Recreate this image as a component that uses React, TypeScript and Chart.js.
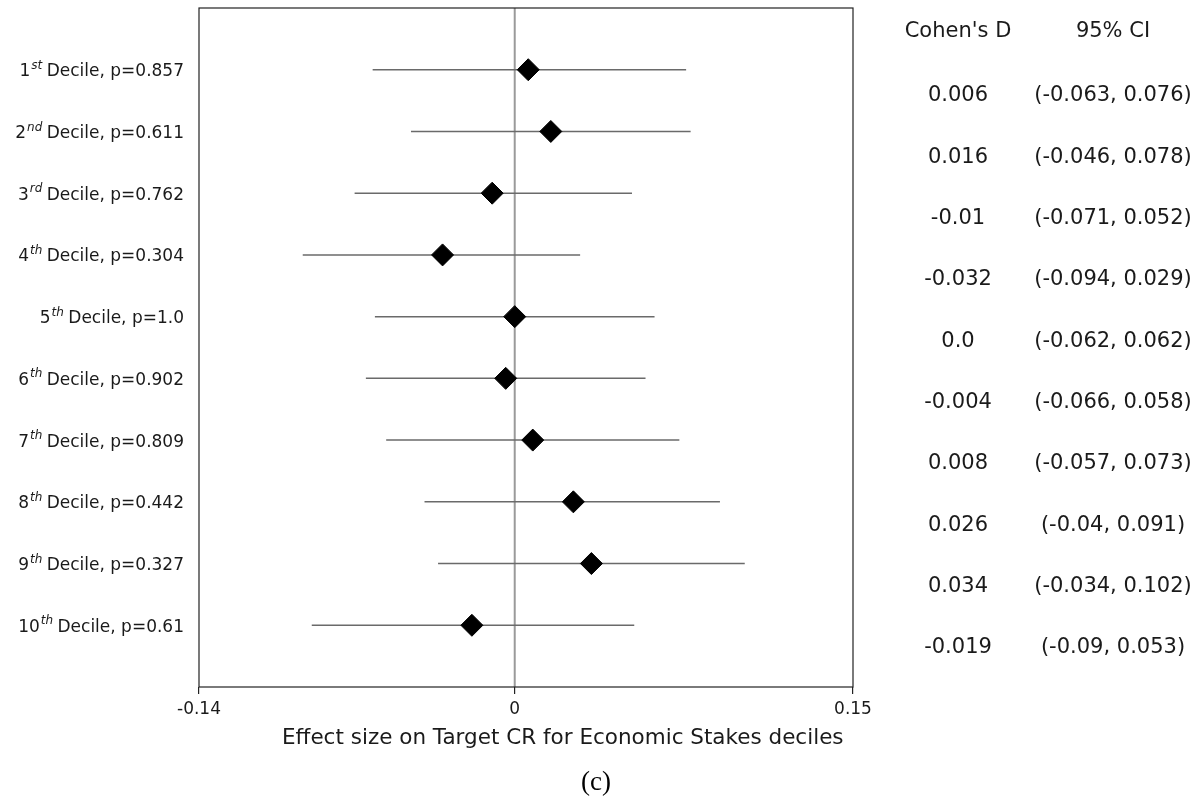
import React, { useEffect, useRef } from "react";
import { Chart, registerables } from "chart.js";

Chart.register(...registerables);

const ordinalNums = ["1", "2", "3", "4", "5", "6", "7", "8", "9", "10"];
const ordinalSup = ["st", "nd", "rd", "th", "th", "th", "th", "th", "th", "th"];
const pValues = ["0.857", "0.611", "0.762", "0.304", "1.0", "0.902", "0.809", "0.442", "0.327", "0.61"];
const cohensD = [0.006, 0.016, -0.01, -0.032, 0.0, -0.004, 0.008, 0.026, 0.034, -0.019];
const ciLow = [-0.063, -0.046, -0.071, -0.094, -0.062, -0.066, -0.057, -0.04, -0.034, -0.09];
const ciHigh = [0.076, 0.078, 0.052, 0.029, 0.062, 0.058, 0.073, 0.091, 0.102, 0.053];
const dLabels = ["0.006", "0.016", "-0.01", "-0.032", "0.0", "-0.004", "0.008", "0.026", "0.034", "-0.019"];
const ciLabels = [
  "(-0.063, 0.076)",
  "(-0.046, 0.078)",
  "(-0.071, 0.052)",
  "(-0.094, 0.029)",
  "(-0.062, 0.062)",
  "(-0.066, 0.058)",
  "(-0.057, 0.073)",
  "(-0.04, 0.091)",
  "(-0.034, 0.102)",
  "(-0.09, 0.053)",
];
const xTicks = [-0.14, 0, 0.15];
const xTickLabels = ["-0.14", "0", "0.15"];
const xTitle = "Effect size on Target CR for Economic Stakes deciles";
const tableHeaders = ["Cohen's D", "95% CI"];
const caption = "(c)";

const SANS = "'DejaVu Sans', sans-serif";
const TEXT = "#1a1a1a";

const overlay = {
  id: "overlay",
  beforeDatasetsDraw(chart: any) {
    const { ctx, chartArea: a, scales } = chart;
    const x = scales.x;
    const y = scales.y;
    ctx.save();
    const x0 = x.getPixelForValue(0);
    ctx.strokeStyle = "#9a9a9a";
    ctx.lineWidth = 2;
    ctx.beginPath();
    ctx.moveTo(x0, a.top);
    ctx.lineTo(x0, a.bottom);
    ctx.stroke();
    ctx.strokeStyle = "#6a6a6a";
    ctx.lineWidth = 1.5;
    ciLow.forEach((lo, i) => {
      const py = y.getPixelForValue(i);
      ctx.beginPath();
      ctx.moveTo(x.getPixelForValue(lo), py);
      ctx.lineTo(x.getPixelForValue(ciHigh[i]), py);
      ctx.stroke();
    });
    ctx.restore();
  },
  afterDraw(chart: any) {
    const { ctx, chartArea: a, scales } = chart;
    const y = scales.y;
    ctx.save();
    // frame
    ctx.strokeStyle = "#222";
    ctx.lineWidth = 1.2;
    ctx.strokeRect(a.left, a.top, a.right - a.left, a.bottom - a.top);

    // y labels with superscripts
    ctx.fillStyle = TEXT;
    ctx.textBaseline = "middle";
    const rightX = a.left - 15;
    ordinalNums.forEach((num, i) => {
      const py = y.getPixelForValue(i) + 2;
      const rest = ` Decile, p=${pValues[i]}`;
      ctx.font = `17px ${SANS}`;
      ctx.textAlign = "right";
      ctx.fillText(rest, rightX, py);
      const wRest = ctx.measureText(rest).width;
      ctx.font = `italic 12px ${SANS}`;
      const sup = ordinalSup[i];
      const wSup = ctx.measureText(sup).width;
      ctx.fillText(sup, rightX - wRest + 1, py - 6);
      ctx.font = `17px ${SANS}`;
      ctx.fillText(num, rightX - wRest - wSup, py);
    });

    // x-axis title
    ctx.font = `21.5px ${SANS}`;
    ctx.textAlign = "left";
    ctx.fillText(xTitle, 282, 738);

    // table
    ctx.textAlign = "center";
    const col1 = 958;
    const col2 = 1113;
    ctx.font = `21px ${SANS}`;
    ctx.fillText(tableHeaders[0], col1, 32);
    ctx.fillText(tableHeaders[1], col2, 32);
    dLabels.forEach((lbl, i) => {
      const py = 96 + 61.3 * i;
      ctx.fillText(lbl, col1, py);
      ctx.fillText(ciLabels[i], col2, py);
    });

    // caption
    ctx.font = `27px 'Liberation Serif', 'Times New Roman', serif`;
    ctx.fillStyle = "#000";
    ctx.fillText(caption, 596, 783);
    ctx.restore();
  },
};

export default function App() {
  const ref = useRef<HTMLCanvasElement | null>(null);
  useEffect(() => {
    if (!ref.current) return;
    Chart.defaults.font.family = SANS;
    const chart = new Chart(ref.current, {
      type: "scatter",
      data: {
        datasets: [
          {
            data: cohensD.map((v, i) => ({ x: v, y: i })),
            pointStyle: "rectRot",
            pointRadius: 11,
            pointHoverRadius: 11,
            backgroundColor: "#000",
            borderColor: "#000",
            borderWidth: 1,
          },
        ],
      },
      options: {
        animation: false,
        responsive: true,
        maintainAspectRatio: false,
        layout: { autoPadding: false, padding: { left: 199, right: 350, top: 8, bottom: 48 } },
        plugins: { legend: { display: false }, tooltip: { enabled: false } },
        scales: {
          x: {
            type: "linear",
            min: -0.14,
            max: 0.15,
            afterBuildTicks: (s: any) => {
              s.ticks = xTicks.map((v) => ({ value: v }));
            },
            afterFit: (s: any) => {
              s.height = 63;
            },
            border: { display: false },
            grid: { drawOnChartArea: false, drawTicks: true, tickLength: 7, color: "#222", lineWidth: 1.2 },
            ticks: {
              padding: 5,
              color: TEXT,
              font: { size: 17, family: SANS },
              maxRotation: 0,
              autoSkip: false,
              callback: (v: any) => {
                const idx = xTicks.indexOf(Number(v));
                return idx >= 0 ? xTickLabels[idx] : "";
              },
            },
            title: { display: false },
          },
          y: {
            type: "linear",
            min: -1,
            max: 10,
            reverse: true,
            display: false,
          },
        },
      },
      plugins: [overlay],
    });
    return () => chart.destroy();
  }, []);
  return (
    <div style={{ position: "fixed", left: 0, top: 0, width: 1203, height: 798, background: "#fff" }}>
      <canvas ref={ref} />
    </div>
  );
}
